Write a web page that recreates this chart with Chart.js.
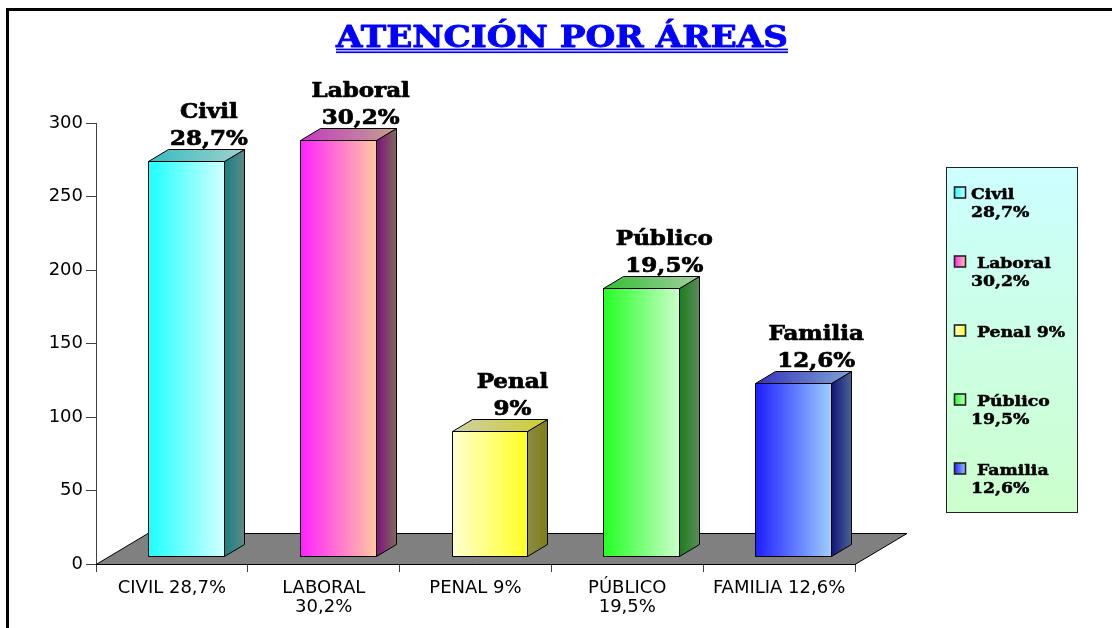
<!DOCTYPE html>
<html><head><meta charset="utf-8">
<script src="https://cdn.jsdelivr.net/npm/chart.js@4.4.1/dist/chart.umd.min.js"></script>
<style>html,body{margin:0;padding:0;background:#fff;overflow:hidden}canvas{display:block}</style>
</head><body>
<canvas id="c" width="1112" height="628"></canvas>
<script>
// ---------- data ----------
const titleText = "ATENCIÓN POR ÁREAS";
const axisLabels = ["CIVIL 28,7%", ["LABORAL", "30,2%"], "PENAL 9%", ["PÚBLICO", "19,5%"], "FAMILIA 12,6%"];
const areaNames = ["Civil", "Laboral", "Penal", "Público", "Familia"];
const percentLabels = ["28,7%", "30,2%", "9%", "19,5%", "12,6%"];
const legendLines = [["Civil", "28,7%"], [" Laboral", "30,2%"], [" Penal 9%"], [" Público", "19,5%"], [" Familia", "12,6%"]];
const attentionCounts = [269, 283, 85, 182, 118];
const yMin = 0, yMax = 300, yStep = 50;

// ---------- styles ----------
const faceColors = [
  {front: ["#1EFFFF", "#D2FFFF"], side: ["#1A7F7F", "#5E8A8A"], top: ["#33BDBD", "#A3CFCF"]},
  {front: ["#FF22FF", "#FFC9A0"], side: ["#7F107F", "#7F6A5A"], top: ["#C23AC2", "#C4A08E"]},
  {front: ["#FFFFD2", "#FFFF22"], side: ["#8A8A50", "#7F7F10"], top: ["#CFCFA3", "#CDCD33"]},
  {front: ["#22FF22", "#CCFFCC"], side: ["#1A7F1A", "#5E8A5E"], top: ["#33BD33", "#A3CFA3"]},
  {front: ["#1E1EFF", "#9ECFFF"], side: ["#14147F", "#4A6490"], top: ["#3333BD", "#7FA3D2"]}
];
const FRONT_DX = 14, FRONT_DY = -8;   // bar front plane offset from floor front edge
const BAR_DX = 20, BAR_DY = -12;      // bar depth
const FLOOR_DX = 52, FLOOR_DY = -31;  // floor depth
const SERIF = '"DejaVu Serif", serif';
const STRETCH = 1.15;

function stretchedText(ctx, text, x, y, size, align, sw) {
  ctx.save();
  ctx.font = 'bold ' + size + 'px ' + SERIF;
  ctx.textBaseline = 'alphabetic';
  ctx.textAlign = align;
  ctx.translate(x, y);
  ctx.scale(STRETCH, 1);
  ctx.fillText(text, 0, 0);
  if (sw) { ctx.lineWidth = sw; ctx.strokeStyle = ctx.fillStyle; ctx.lineJoin = 'round'; ctx.strokeText(text, 0, 0); }
  ctx.restore();
}
function hGrad(ctx, x0, x1, c) {
  const g = ctx.createLinearGradient(x0, 0, x1, 0);
  g.addColorStop(0, c[0]); g.addColorStop(1, c[1]);
  return g;
}
function poly(ctx, pts, fill) {
  ctx.beginPath();
  ctx.moveTo(pts[0][0], pts[0][1]);
  for (let k = 1; k < pts.length; k++) ctx.lineTo(pts[k][0], pts[k][1]);
  ctx.closePath();
  ctx.fillStyle = fill;
  ctx.fill();
  ctx.stroke();
}

const pagePlugin = {
  id: 'page',
  beforeDraw(chart) {
    const ctx = chart.ctx;
    ctx.save();
    ctx.fillStyle = '#fff';
    ctx.fillRect(0, 0, chart.width, chart.height);
    ctx.restore();
  },
  afterDraw(chart) {
    const ctx = chart.ctx;
    ctx.save();
    // frame
    ctx.strokeStyle = '#000';
    ctx.lineWidth = 3;
    ctx.beginPath();
    ctx.moveTo(7.5, chart.height + 2);
    ctx.lineTo(7.5, 9.5);
    ctx.lineTo(chart.width + 2, 9.5);
    ctx.stroke();
    // title
    ctx.fillStyle = '#0000FF';
    ctx.strokeStyle = '#0000FF';
    ctx.font = 'bold 30px ' + SERIF;
    const w = ctx.measureText(titleText).width;
    const sx = 452 / w;
    const cx = 562;
    ctx.save();
    ctx.translate(cx, 47);
    ctx.scale(sx, 1);
    ctx.textAlign = 'center';
    ctx.textBaseline = 'alphabetic';
    ctx.fillText(titleText, 0, 0);
    ctx.lineWidth = 0.9;
    ctx.lineJoin = 'round';
    ctx.strokeText(titleText, 0, 0);
    ctx.restore();
    ctx.fillRect(cx - 226, 48.6, 452, 1.7);
    ctx.fillRect(cx - 226, 51.4, 452, 1.7);
    // legend
    const lx = 946, ly = 167, lw = 131, lh = 345;
    const g = ctx.createLinearGradient(0, ly, 0, ly + lh);
    g.addColorStop(0, '#CCFFFF'); g.addColorStop(1, '#CCFFCC');
    ctx.fillStyle = g;
    ctx.fillRect(lx, ly, lw, lh);
    ctx.strokeStyle = '#222';
    ctx.lineWidth = 1;
    ctx.strokeRect(lx + 0.5, ly + 0.5, lw, lh);
    const step = lh / legendLines.length;
    legendLines.forEach((lines, i) => {
      const base = ly + 32 + step * i;
      ctx.lineWidth = 1.6;
      ctx.strokeStyle = '#222';
      ctx.fillStyle = hGrad(ctx, lx + 8, lx + 20, faceColors[i].front);
      ctx.fillRect(lx + 8.5, base - 12, 11, 11);
      ctx.strokeRect(lx + 8.5, base - 12, 11, 11);
      ctx.fillStyle = '#000';
      lines.forEach((t, j) => stretchedText(ctx, t, lx + 25, base + j * 18, 15, 'left', 0.5));
    });
    ctx.restore();
  }
};

const bars3d = {
  id: 'bars3d',
  beforeDatasetsDraw(chart) {
    const a = chart.chartArea, ctx = chart.ctx;
    ctx.save();
    ctx.strokeStyle = '#000';
    ctx.lineWidth = 1;
    poly(ctx, [[a.left, a.bottom + 0.5], [a.left + FLOOR_DX, a.bottom + FLOOR_DY + 0.5],
               [a.right + FLOOR_DX, a.bottom + FLOOR_DY + 0.5], [a.right, a.bottom + 0.5]], '#808080');
    ctx.restore();
  },
  afterDatasetsDraw(chart) {
    const ctx = chart.ctx;
    const meta = chart.getDatasetMeta(0);
    ctx.save();
    ctx.lineJoin = 'round';
    meta.data.forEach((el, i) => {
      const p = el.getProps(['x', 'y', 'base', 'width'], true);
      const x0 = Math.round(p.x - p.width / 2 + FRONT_DX) + 0.5;
      const x1 = Math.round(p.x + p.width / 2 + FRONT_DX) + 0.5;
      const yT = Math.round(p.y + FRONT_DY) + 0.5;
      const yB = Math.round(p.base + FRONT_DY) + 0.5;
      const c = faceColors[i];
      ctx.strokeStyle = '#000';
      ctx.lineWidth = 1;
      // side
      poly(ctx, [[x1, yT], [x1 + BAR_DX, yT + BAR_DY], [x1 + BAR_DX, yB + BAR_DY], [x1, yB]], hGrad(ctx, x1, x1 + BAR_DX, c.side));
      // top
      poly(ctx, [[x0, yT], [x0 + BAR_DX, yT + BAR_DY], [x1 + BAR_DX, yT + BAR_DY], [x1, yT]], hGrad(ctx, x0, x1 + BAR_DX, c.top));
      // front
      poly(ctx, [[x0, yT], [x1, yT], [x1, yB], [x0, yB]], hGrad(ctx, x0, x1, c.front));
      // data labels
      ctx.fillStyle = '#000';
      const lx = p.x + 37;
      const b2 = yT + BAR_DY - 5;
      stretchedText(ctx, percentLabels[i], lx, b2, 20, 'center', 0.7);
      stretchedText(ctx, areaNames[i], lx, b2 - 27, 20, 'center', 0.7);
    });
    ctx.restore();
  }
};

new Chart(document.getElementById('c'), {
  type: 'bar',
  data: {
    labels: axisLabels,
    datasets: [{
      data: attentionCounts,
      backgroundColor: 'rgba(0,0,0,0)',
      borderWidth: 0,
      barPercentage: 0.5,
      categoryPercentage: 1.0
    }]
  },
  options: {
    responsive: false,
    animation: false,
    devicePixelRatio: 1,
    events: [],
    layout: {padding: {left: 0, top: 123, right: 257, bottom: 0}},
    plugins: {legend: {display: false}, title: {display: false}, tooltip: {enabled: false}},
    scales: {
      x: {
        offset: true,
        grid: {display: true, drawOnChartArea: false, drawTicks: true, tickLength: 8, color: '#404040', offset: true},
        border: {display: true, color: '#000'},
        ticks: {color: '#000', font: {family: '"DejaVu Sans", sans-serif', size: 18, lineHeight: 1.1}, maxRotation: 0, minRotation: 0, autoSkip: false, padding: 6},
        afterFit(s) { s.height = 64; }
      },
      y: {
        min: yMin, max: yMax,
        grid: {display: true, drawOnChartArea: false, drawTicks: true, tickLength: 10, color: '#404040'},
        border: {display: true, color: '#404040'},
        ticks: {stepSize: yStep, color: '#000', font: {family: '"DejaVu Sans", sans-serif', size: 18}, padding: 3},
        afterFit(s) { s.width = 96; }
      }
    }
  },
  plugins: [pagePlugin, bars3d]
});
</script>
</body></html>
